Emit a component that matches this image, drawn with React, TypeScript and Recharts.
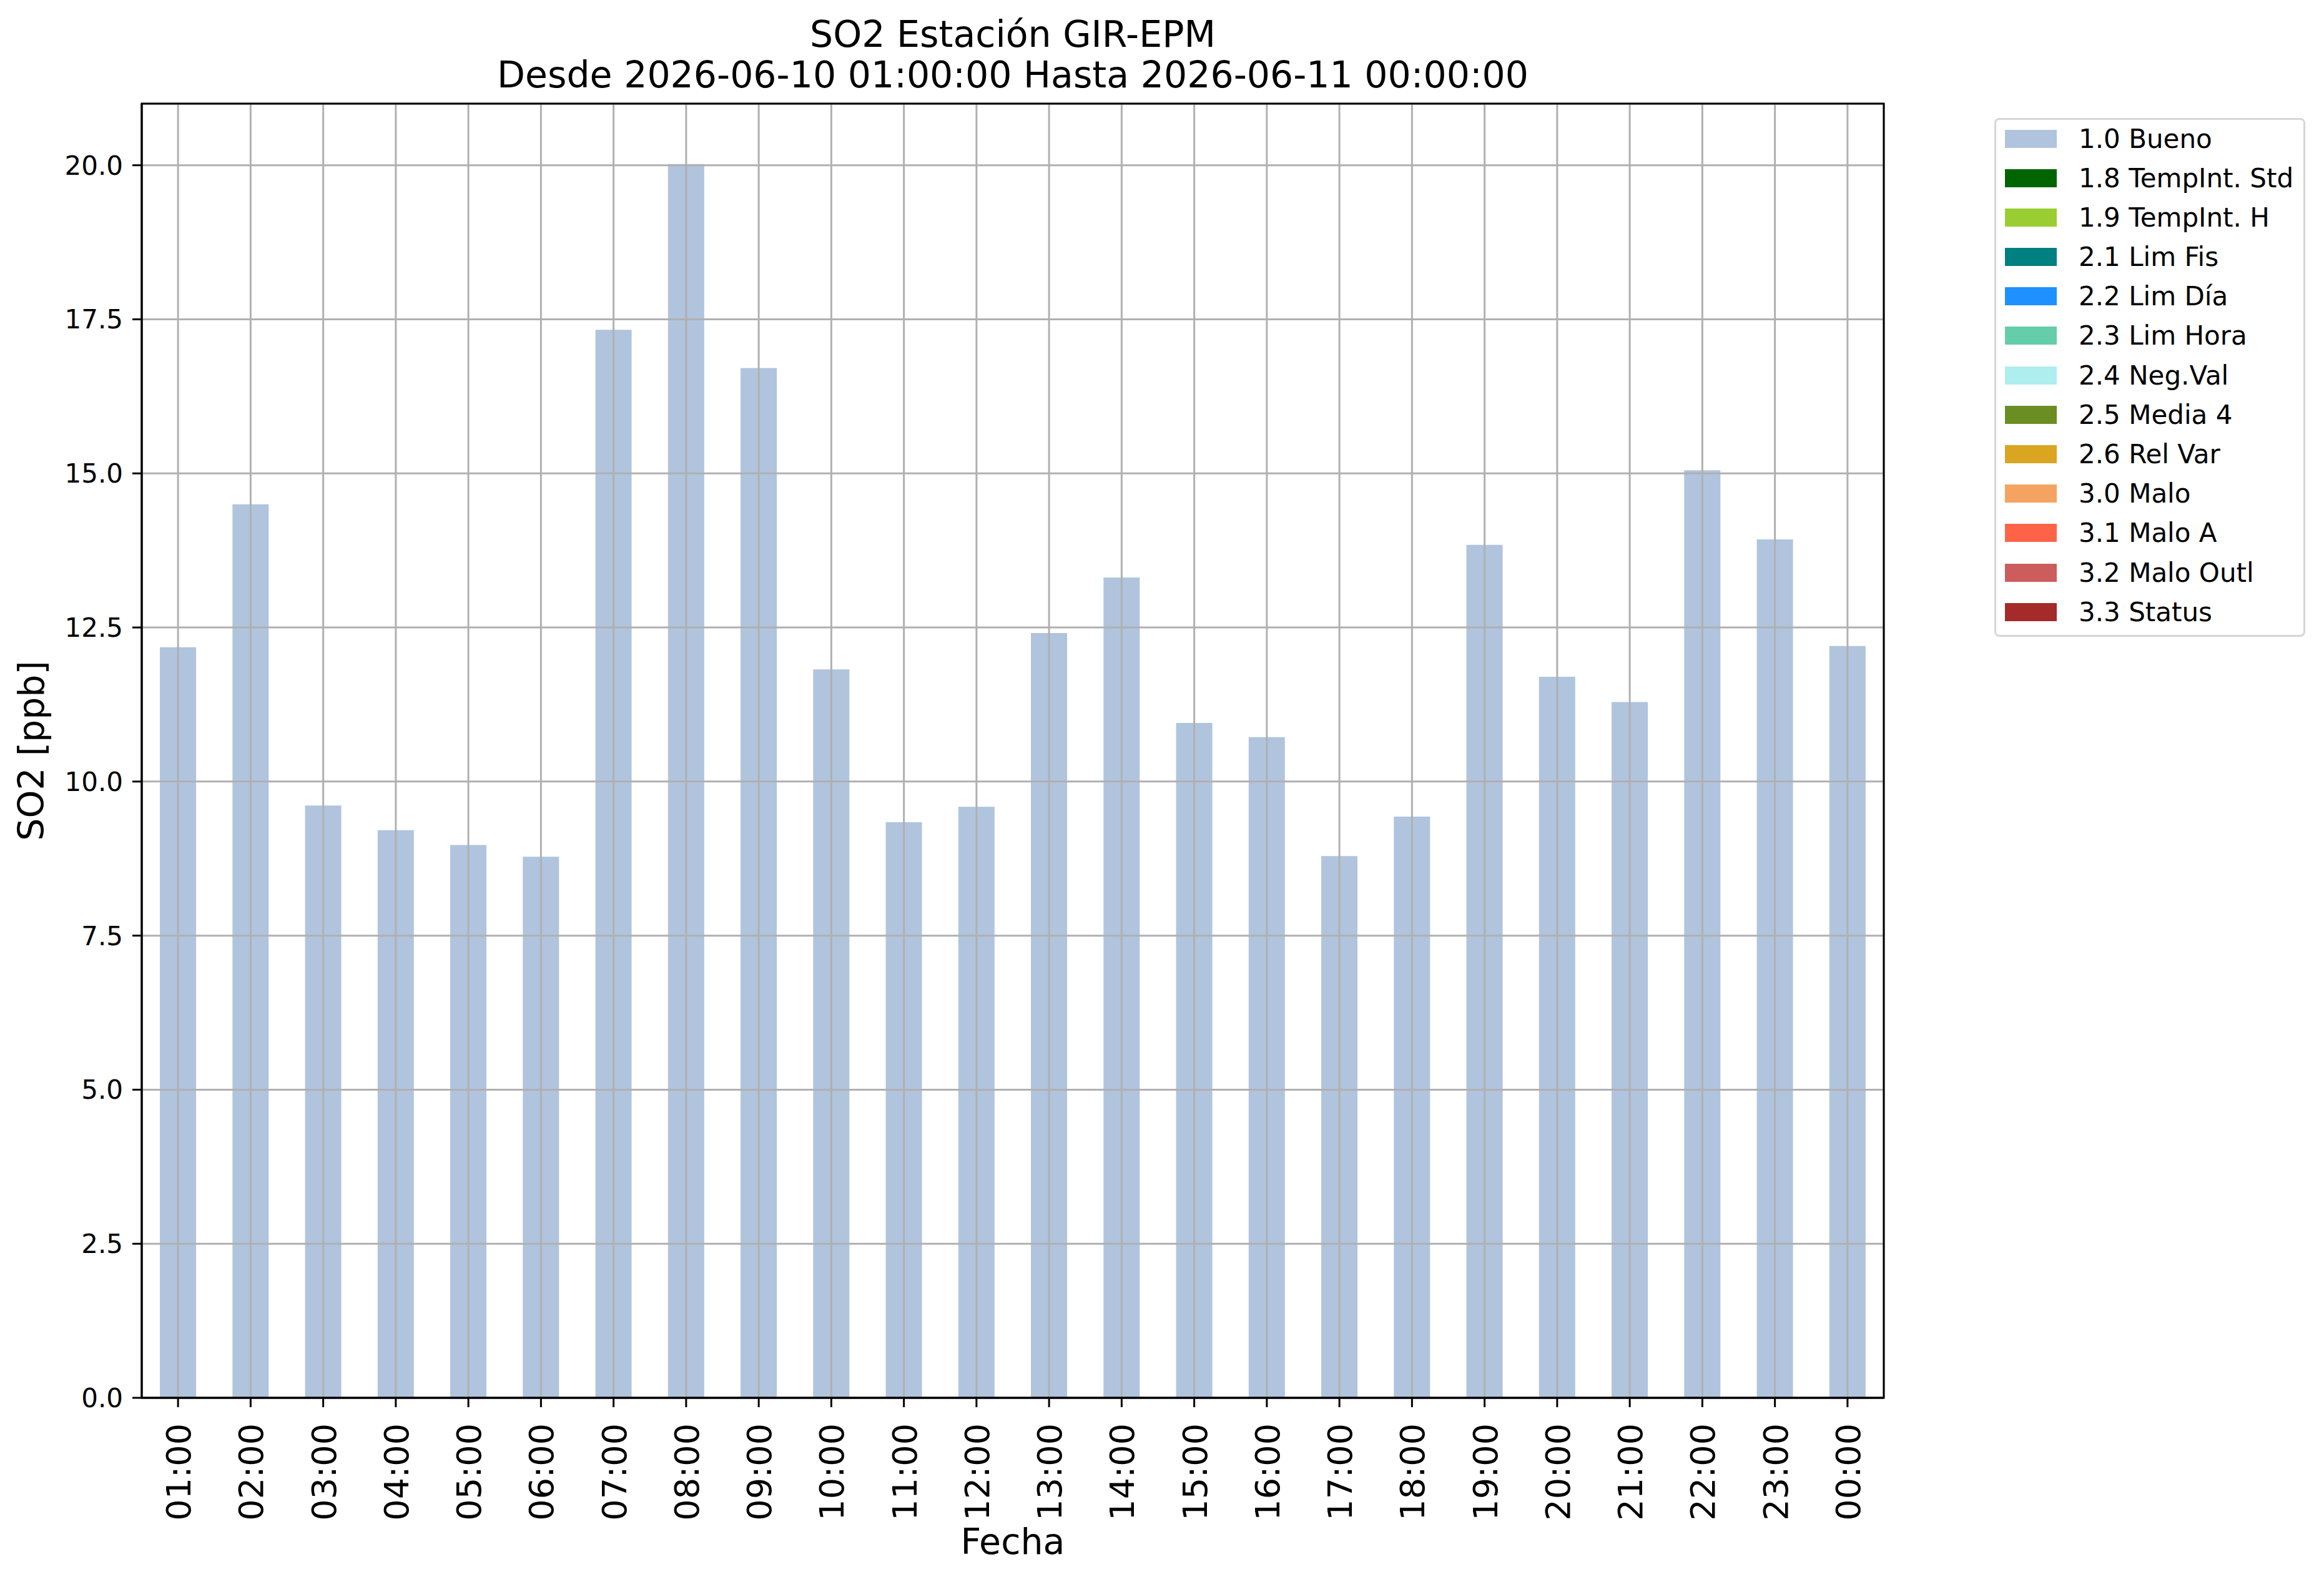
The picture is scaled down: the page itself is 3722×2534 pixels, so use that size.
import { BarChart, Bar, XAxis, YAxis, CartesianGrid, Label, ReferenceArea } from 'recharts'

const HOURS = [
  '01:00', '02:00', '03:00', '04:00', '05:00', '06:00', '07:00', '08:00',
  '09:00', '10:00', '11:00', '12:00', '13:00', '14:00', '15:00', '16:00',
  '17:00', '18:00', '19:00', '20:00', '21:00', '22:00', '23:00', '00:00',
]

// SO2 [ppb] flagged 1.0 Bueno
const BUENO = [
  12.18, 14.50, 9.61, 9.21, 8.97, 8.78, 17.33, 20.02,
  16.71, 11.82, 9.34, 9.59, 12.41, 13.31, 10.95, 10.72,
  8.79, 9.43, 13.84, 11.70, 11.29, 15.05, 13.93, 12.20,
]

const FLAG_KEYS = ['f10', 'f18', 'f19', 'f21', 'f22', 'f23', 'f24', 'f25', 'f26', 'f30', 'f31', 'f32', 'f33']
const FLAG_NAMES = [
  '1.0 Bueno', '1.8 TempInt. Std', '1.9 TempInt. H', '2.1 Lim Fis', '2.2 Lim Día',
  '2.3 Lim Hora', '2.4 Neg.Val', '2.5 Media 4', '2.6 Rel Var', '3.0 Malo',
  '3.1 Malo A', '3.2 Malo Outl', '3.3 Status',
]
const FLAG_COLORS = [
  '#B0C4DE', '#006400', '#9ACD32', '#008080', '#1E90FF',
  '#66CDAA', '#AFEEEE', '#6B8E23', '#DAA520', '#F4A460',
  '#FF6347', '#CD5C5C', '#A52A2A',
]

const Y_TICKS = [0, 2.5, 5, 7.5, 10, 12.5, 15, 17.5, 20]
const Y_MAX = 21

const TITLE = 'SO2 Estación GIR-EPM'
const SUBTITLE = 'Desde 2026-06-10 01:00:00 Hasta 2026-06-11 00:00:00'

// only the "Bueno" flag has values in this period
const rows = HOURS.map((hour, i) => ({ hour, f10: BUENO[i] }))

const W = 3722
const H = 2534

function HourTick(props: any) {
  const { x, y, payload } = props
  const bx = x + 20
  const by = y + 26
  return (
    <text x={bx} y={by} transform={`rotate(-90 ${bx} ${by})`} textAnchor="end" fontSize={54} fill="#000">
      {payload.value}
    </text>
  )
}

function FlagLegend() {
  return (
    <div
      style={{
        position: 'absolute', left: 3194, top: 189, width: 498, height: 831,
        boxSizing: 'border-box', border: '3px solid #d6d6d6', borderRadius: 8, background: '#fff',
      }}
    >
      {FLAG_NAMES.map((name, i) => (
        <div
          key={name}
          style={{
            position: 'absolute', left: 14, top: 30 + i * 63.2 - 31.6, height: 63.2,
            display: 'flex', alignItems: 'center', whiteSpace: 'nowrap',
          }}
        >
          <span style={{ display: 'inline-block', width: 83, height: 29, background: FLAG_COLORS[i] }} />
          <span style={{ marginLeft: 35, fontSize: 42, color: '#000' }}>{name}</span>
        </div>
      ))}
    </div>
  )
}

export default function App() {
  return (
    <div style={{ position: 'absolute', left: 0, top: 0, width: W, height: H, background: '#fff', fontFamily: '"DejaVu Sans", sans-serif' }}>
      <svg width={W} height={160} style={{ position: 'absolute', left: 0, top: 0 }}>
        <text x={1622} y={75} textAnchor="middle" fontSize={58.5} fill="#000">{TITLE}</text>
        <text x={1622} y={140} textAnchor="middle" fontSize={58.5} fill="#000">{SUBTITLE}</text>
      </svg>

      <div style={{ position: 'absolute', left: 0, top: 0 }}>
        <BarChart width={W} height={H} data={rows} margin={{ top: 166, right: 705, left: 0, bottom: 0 }} barCategoryGap="25%">
          {FLAG_KEYS.map((k, i) => (
            <Bar key={k} dataKey={k} name={FLAG_NAMES[i]} stackId="flag" fill={FLAG_COLORS[i]} isAnimationActive={false} />
          ))}

          <CartesianGrid stroke="#b0b0b0" strokeWidth={3} zIndex={350} />

          {/* axes frame */}
          <ReferenceArea y1={0} y2={Y_MAX} fill="none" fillOpacity={0} stroke="#000" strokeWidth={3} strokeOpacity={1} zIndex={600} />

          <XAxis
            dataKey="hour"
            height={295}
            interval={0}
            tick={<HourTick />}
            tickSize={15}
            tickMargin={0}
            stroke="#000"
            zIndex={600}
            tickLine={{ stroke: '#000', strokeWidth: 3 }}
            axisLine={{ stroke: '#000', strokeWidth: 3 }}
          >
            <Label
              content={(p: any) => {
                const vb = p.viewBox
                return (
                  <text x={vb.x + vb.width / 2} y={vb.y + 250} textAnchor="middle" fontSize={57} fill="#000">
                    Fecha
                  </text>
                )
              }}
            />
          </XAxis>

          <YAxis
            width={227}
            domain={[0, Y_MAX]}
            ticks={Y_TICKS}
            interval={0}
            allowDataOverflow
            tickFormatter={(v: number) => v.toFixed(1)}
            tick={{ fill: '#000', fontSize: 42 }}
            tickSize={15}
            tickMargin={15}
            stroke="#000"
            zIndex={600}
            tickLine={{ stroke: '#000', strokeWidth: 3 }}
            axisLine={{ stroke: '#000', strokeWidth: 3 }}
          >
            <Label
              content={(p: any) => {
                const vb = p.viewBox
                const cy = vb.y + vb.height / 2
                return (
                  <text x={70} y={cy} transform={`rotate(-90 70 ${cy})`} textAnchor="middle" fontSize={57} fill="#000">
                    SO2 [ppb]
                  </text>
                )
              }}
            />
          </YAxis>
        </BarChart>
      </div>

      <FlagLegend />
    </div>
  )
}
